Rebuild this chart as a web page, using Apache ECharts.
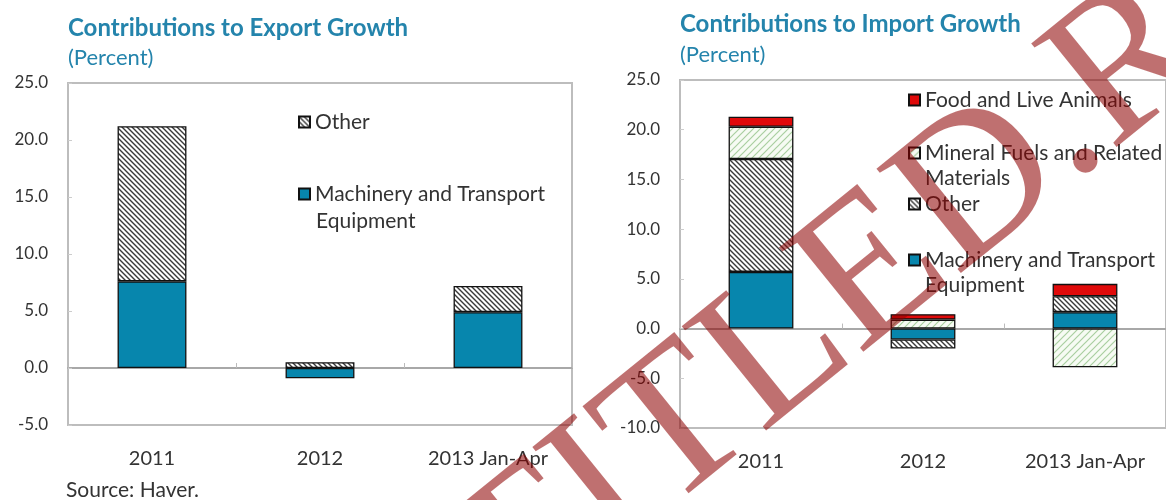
<!DOCTYPE html>
<html>
<head>
<meta charset="utf-8">
<script src="https://cdn.jsdelivr.net/npm/echarts@6/dist/echarts.min.js"></script>
<style>
  html, body { margin: 0; padding: 0; background: #fff; }
  #chart { width: 1166px; height: 500px; }
</style>
</head>
<body>
<div id="chart"></div>
<script>
// data
const categories = ['2011', '2012', '2013 Jan-Apr'];
const exportMachinery = [7.6, -0.9, 4.9];
const exportOther = [13.6, 0.5, 2.3];
const importMachinery = [5.7, -1.1, 1.65];
const importOther = [11.35, -0.9, 1.6];
const importMineral = [3.25, 0.9, -3.9];
const importFood = [1.0, 0.55, 1.25];
const exportRange = [-5, 25];
const importRange = [-10, 25];

const teal = '#2484ac';
const txt = '#333';
const font = 'Lato, "Open Sans", sans-serif';

// diagonal hatch tile for patterned bars
function hatch(dir, fg, bg, size, lw) {
  const c = document.createElement('canvas');
  c.width = c.height = size;
  const ctx = c.getContext('2d');
  ctx.fillStyle = bg;
  ctx.fillRect(0, 0, size, size);
  ctx.strokeStyle = fg;
  ctx.lineWidth = lw;
  ctx.beginPath();
  if (dir === 'back') {
    ctx.moveTo(-1, -1); ctx.lineTo(size + 1, size + 1);
    ctx.moveTo(-1, size - 1); ctx.lineTo(1, size + 1);
    ctx.moveTo(size - 1, -1); ctx.lineTo(size + 1, 1);
  } else {
    ctx.moveTo(-1, size + 1); ctx.lineTo(size + 1, -1);
    ctx.moveTo(-1, 1); ctx.lineTo(1, -1);
    ctx.moveTo(size - 1, size + 1); ctx.lineTo(size + 1, size - 1);
  }
  ctx.stroke();
  return c;
}

const otherFill = { image: hatch('back', '#3a3a3a', '#ffffff', 5, 1.4), repeat: 'repeat' };
const mineralFill = { image: hatch('fwd', '#a9cfa0', '#f6fbf3', 7, 1.2), repeat: 'repeat' };
const machColor = '#0786ad';
const foodColor = '#e00a0a';

const border = { borderColor: '#111', borderWidth: 1.3 };

function valueAxis(gridIndex, range) {
  return {
    type: 'value', gridIndex: gridIndex, min: range[0], max: range[1], interval: 5,
    axisLine: { show: false },
    axisTick: { show: true, inside: true, length: 4, lineStyle: { color: '#ccc' } },
    splitLine: { show: false },
    axisLabel: { formatter: v => v.toFixed(1), color: txt, fontSize: 17, fontFamily: font, margin: 20 }
  };
}

// one axis for the labels at the bottom, one drawn on the zero line
function catAxes(gridIndex) {
  return [{
    type: 'category', gridIndex: gridIndex, data: categories, position: 'bottom',
    axisLine: { show: false, onZero: false }, axisTick: { show: false },
    axisLabel: { color: txt, fontSize: 20, fontFamily: font, margin: 24 }
  }, {
    type: 'category', gridIndex: gridIndex, data: categories, position: 'top',
    axisLine: { show: true, onZero: true, lineStyle: { color: '#a8a8a8', width: 2 } },
    axisTick: { show: true, inside: false, length: 5, lineStyle: { color: '#bbb' } },
    axisLabel: { show: false }
  }];
}

function bar(name, data, xi, yi, color, width) {
  return {
    name: name, type: 'bar', stack: 's' + yi, data: data,
    xAxisIndex: xi, yAxisIndex: yi, barWidth: width,
    itemStyle: Object.assign({ color: color }, border),
    emphasis: { disabled: true }
  };
}

function legendItem(name, left, top, label) {
  return {
    data: [name], left: left, top: top, orient: 'vertical', padding: 0,
    itemWidth: 11, itemHeight: 11, selectedMode: false, icon: 'rect',
    formatter: () => label,
    textStyle: { color: txt, fontSize: 21, fontFamily: font, lineHeight: 22 }
  };
}

function note(text, x, y) {
  return {
    type: 'text', x: x, y: y,
    style: { text: text, fill: txt, font: '21px ' + font, textVerticalAlign: 'middle' }
  };
}

const MT = 'Machinery and Transport Equipment';
const MF = 'Mineral Fuels and Related Materials';

const chart = echarts.init(document.getElementById('chart'));
chart.setOption({
  animation: false,
  title: [
    { text: 'Contributions to Export Growth', subtext: '(Percent)', left: 63, top: 11, itemGap: 7,
      textStyle: { color: teal, fontSize: 24, fontWeight: 'bold', fontFamily: font },
      subtextStyle: { color: teal, fontSize: 22, fontFamily: font } },
    { text: 'Contributions to Import Growth', subtext: '(Percent)', left: 675, top: 7, itemGap: 8,
      textStyle: { color: teal, fontSize: 24, fontWeight: 'bold', fontFamily: font },
      subtextStyle: { color: teal, fontSize: 22, fontFamily: font } }
  ],
  grid: [
    { left: 68, right: 594, top: 83, bottom: 75, show: true, borderColor: '#bdbdbd', borderWidth: 2, backgroundColor: '#fff' },
    { left: 680, right: -12, top: 80, bottom: 72, show: true, borderColor: '#bdbdbd', borderWidth: 2, backgroundColor: '#fff' }
  ],
  xAxis: catAxes(0).concat(catAxes(1)),
  yAxis: [valueAxis(0, exportRange), valueAxis(1, importRange)],
  legend: [
    legendItem('Other', 298, 111, 'Other'),
    legendItem(MT, 298, 183, 'Machinery and Transport'),
    legendItem('Food and Live Animals', 908, 89, 'Food and Live Animals'),
    legendItem(MF, 908, 142, 'Mineral Fuels and Related'),
    legendItem('Other', 908, 193, 'Other'),
    legendItem(MT, 908, 249, 'Machinery and Transport')
  ],
  series: [
    bar(MT, exportMachinery, 0, 0, machColor, '41%'),
    bar('Other', exportOther, 0, 0, otherFill, '41%'),
    bar(MT, importMachinery, 2, 1, machColor, '40%'),
    bar('Other', importOther, 2, 1, otherFill, '40%'),
    bar(MF, importMineral, 2, 1, mineralFill, '40%'),
    bar('Food and Live Animals', importFood, 2, 1, foodColor, '40%')
  ],
  graphic: [
    note('Equipment', 316, 221),
    note('Materials', 925, 178),
    note('Equipment', 925, 285),
    note('Source: Haver.', 66, 490),
    {
      type: 'text', x: 781, y: 481, rotation: 0.68, silent: true, z: 100,
      style: {
        text: 'UNTITLED.R', fill: 'rgba(140,0,0,0.56)',
        font: '205px "Liberation Serif", "DejaVu Serif", serif',
        textAlign: 'center', textVerticalAlign: 'bottom'
      }
    }
  ]
});
</script>
</body>
</html>
